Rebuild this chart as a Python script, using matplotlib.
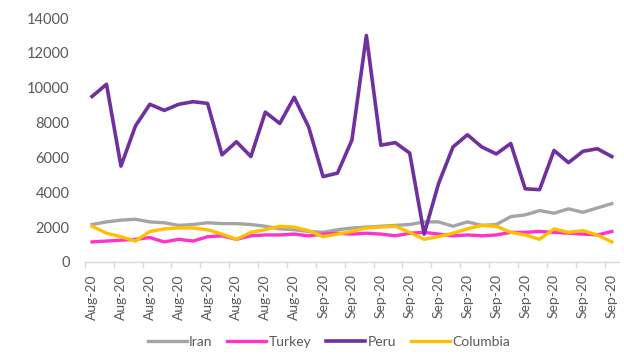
import numpy as np
import matplotlib.pyplot as plt

plt.rcParams['font.family'] = ['Lato', 'DejaVu Sans']

# daily counts, Aug-20 to Sep-20
dates = ['Aug-20'] * 16 + ['Sep-20'] * 21

iran = [2150, 2300, 2400, 2450, 2300, 2250, 2100, 2150, 2250, 2200,
        2200, 2150, 2050, 1900, 1850, 1750, 1700, 1850, 1950, 2000,
        2050, 2100, 2150, 2300, 2300, 2050, 2300, 2100, 2150, 2600,
        2700, 2950, 2800, 3050, 2850, 3100, 3350]
turkey = [1150, 1200, 1250, 1300, 1400, 1150, 1300, 1200, 1450, 1500,
          1300, 1500, 1550, 1550, 1600, 1500, 1600, 1650, 1600, 1650,
          1600, 1500, 1650, 1700, 1600, 1500, 1550, 1500, 1550, 1700,
          1700, 1750, 1700, 1650, 1600, 1550, 1750]
peru = [9500, 10200, 5500, 7800, 9050, 8700, 9050, 9200, 9100, 6150,
        6900, 6050, 8600, 7950, 9450, 7750, 4900, 5100, 7000, 13000,
        6700, 6850, 6250, 1600, 4500, 6600, 7300, 6600, 6200, 6800,
        4200, 4150, 6400, 5700, 6350, 6500, 6050]
columbia = [2050, 1650, 1450, 1200, 1750, 1900, 1950, 1950, 1850, 1600,
            1300, 1700, 1850, 2050, 2000, 1800, 1450, 1600, 1750, 1950,
            2000, 2050, 1700, 1300, 1450, 1650, 1900, 2100, 2050, 1700,
            1550, 1300, 1900, 1700, 1800, 1550, 1150]

x = np.arange(len(dates))
text_color = '#595959'
axis_color = '#D9D9D9'

fig = plt.figure(figsize=(6.24, 3.54), dpi=100)
ax = fig.add_axes([0.136, 0.26, 0.856, 0.689])

ax.plot(x, iran, color='#A5A5A5', lw=2.4, label='Iran', solid_joinstyle='round')
ax.plot(x, turkey, color='#FF33CC', lw=2.4, label='Turkey', solid_joinstyle='round')
ax.plot(x, peru, color='#7030A0', lw=2.6, label='Peru', solid_joinstyle='round')
ax.plot(x, columbia, color='#FFC000', lw=2.4, label='Columbia', solid_joinstyle='round')

ax.set_xlim(-0.5, len(dates) - 0.5)
ax.set_ylim(0, 14000)
ax.set_yticks(range(0, 14001, 2000))

# label every other day, tick marks between the label groups
ax.set_xticks(x[::2])
ax.set_xticklabels(dates[::2], rotation=90)
ax.set_xticks(np.arange(-0.5, len(dates) - 1, 2), minor=True)
ax.tick_params(axis='x', which='major', length=0, pad=9, labelsize=10, labelcolor=text_color)
ax.tick_params(axis='x', which='minor', length=4.5, width=1, color=axis_color)
ax.tick_params(axis='y', length=0, pad=11, labelsize=10.5, labelcolor=text_color)

for side in ['top', 'right', 'left']:
    ax.spines[side].set_visible(False)
ax.spines['bottom'].set_color(axis_color)
ax.spines['bottom'].set_linewidth(1)

fig.legend(loc='center', bbox_to_anchor=(0.527, 0.034), ncol=4, frameon=False,
           handlelength=2.8, handletextpad=0.15, columnspacing=1.1,
           fontsize=10, labelcolor=text_color)

fig.savefig('out.png', dpi=100)
